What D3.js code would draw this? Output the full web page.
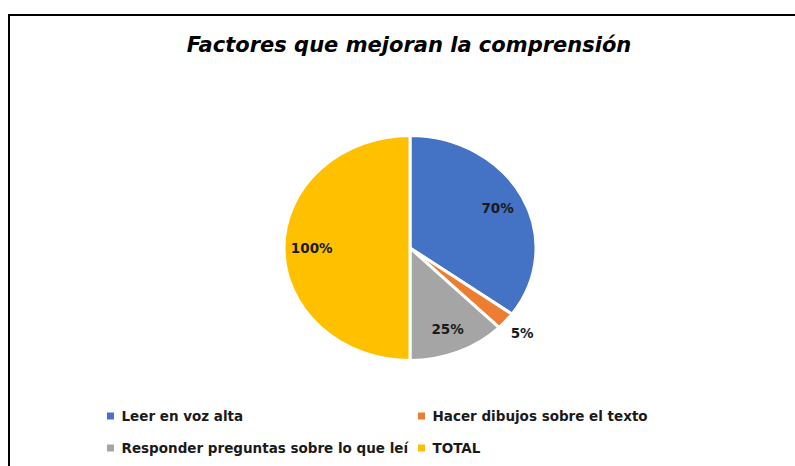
<!DOCTYPE html>
<html><head><meta charset="utf-8">
<script src="https://cdn.jsdelivr.net/npm/d3@7"></script>
<style>body{margin:0;background:#fff}svg{display:block}</style>
</head><body>
<svg id="c" width="795" height="466"></svg>
<script>
const categories = ["Leer en voz alta", "Hacer dibujos sobre el texto", "Responder preguntas sobre lo que leí", "TOTAL"];
const values = [70, 5, 25, 100];
const labels = ["70%", "5%", "25%", "100%"];
const colors = ["#4472C4", "#ED7D31", "#A5A5A5", "#FFC000"];

const svg = d3.select("#c");
// chart border
svg.append("rect").attr("x", 9).attr("y", 15).attr("width", 800).attr("height", 470)
  .attr("fill", "#fff").attr("stroke", "#000").attr("stroke-width", 2);

svg.append("text").attr("x", 409).attr("y", 52).attr("text-anchor", "middle")
  .attr("font-family", "'DejaVu Sans', Verdana, sans-serif").attr("font-style", "italic").attr("font-weight", "bold")
  .attr("font-size", 21).attr("fill", "#000").text("Factores que mejoran la comprensión");

const cx = 410, cy = 248, r = 126, ky = 112.5 / 126;
const pie = d3.pie().sort(null).value(d => d)(values);
const arc = d3.arc().innerRadius(0).outerRadius(r);
const g = svg.append("g").attr("transform", `translate(${cx},${cy}) scale(1,${ky})`);
g.selectAll("path").data(pie).enter().append("path")
  .attr("d", arc).attr("fill", (d, i) => colors[i])
  .attr("stroke", "#fff").attr("stroke-width", 3).attr("vector-effect", "non-scaling-stroke");

const labArc = d3.arc().innerRadius(r * 0.78).outerRadius(r * 0.78);
const outArc = d3.arc().innerRadius(r * 1.17).outerRadius(r * 1.17);
svg.append("g").selectAll("text").data(pie).enter().append("text")
  .attr("x", (d, i) => cx + (i === 1 ? outArc : labArc).centroid(d)[0])
  .attr("y", (d, i) => cy + (i === 1 ? outArc : labArc).centroid(d)[1] * ky)
  .attr("text-anchor", "middle").attr("dy", "0.35em")
  .attr("font-family", "'DejaVu Sans', Verdana, sans-serif").attr("font-weight", "bold")
  .attr("font-size", 13.5).attr("fill", "#1a1a1a").text((d, i) => labels[i]);

const legPos = [[107, 416], [418, 416], [107, 448], [418, 448]];
const leg = svg.append("g").selectAll("g").data(categories).enter().append("g")
  .attr("transform", (d, i) => `translate(${legPos[i][0]},${legPos[i][1]})`);
leg.append("rect").attr("x", 0).attr("y", -3.5).attr("width", 7).attr("height", 7)
  .attr("fill", (d, i) => colors[i]);
leg.append("text").attr("x", 14.5).attr("y", 0).attr("dy", "0.35em")
  .attr("font-family", "'DejaVu Sans', Verdana, sans-serif").attr("font-weight", "bold")
  .attr("font-size", 13.5).attr("fill", "#1a1a1a").text(d => d);
</script>
</body></html>
